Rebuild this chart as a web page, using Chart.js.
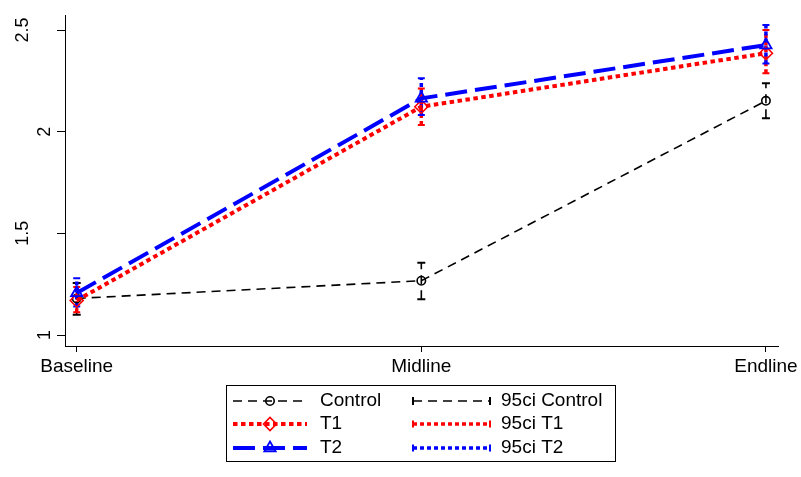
<!DOCTYPE html>
<html><head><meta charset="utf-8">
<script src="https://cdn.jsdelivr.net/npm/chart.js@4.4.0/dist/chart.umd.min.js"></script>
<style>html,body{margin:0;padding:0;background:#fff}#wrap{width:801px;height:477px;position:relative}</style>
</head><body><div id="wrap"><canvas id="c"></canvas></div>
<script>
const categories = ['Baseline', 'Midline', 'Endline'];
const yTickValues = [1, 1.5, 2, 2.5];
const yTickLabels = ['1', '1.5', '2', '2.5'];

const controlMean = [1.180, 1.267, 2.152];
const controlLow  = [1.100, 1.176, 2.066];
const controlHigh = [1.256, 1.356, 2.238];

const t1Mean = [1.170, 2.123, 2.386];
const t1Low  = [1.112, 2.033, 2.287];
const t1High = [1.236, 2.213, 2.500];

const t2Mean = [1.207, 2.164, 2.426];
const t2Low  = [1.140, 2.082, 2.336];
const t2High = [1.279, 2.263, 2.525];

const FONT = '"Liberation Sans", Arial, Helvetica, sans-serif';

function meanPoints(arr) { return arr.map((v, i) => ({ x: i, y: v })); }
function ciPoints(lo, hi) {
  const out = [];
  lo.forEach((l, i) => { out.push({ x: i, y: l }, { x: i, y: hi[i] }, { x: i, y: null }); });
  return out;
}

const datasets = [
  { label: 'Control', data: meanPoints(controlMean), showLine: true, order: 3,
    borderColor: '#000', borderWidth: 1.6, borderDash: [9, 6],
    pointStyle: 'circle', pointRadius: 4.2, pointBorderWidth: 1.6,
    pointBorderColor: '#000', pointBackgroundColor: 'rgba(0,0,0,0)', ci: false },
  { label: 'T1', data: meanPoints(t1Mean), showLine: true, order: 2,
    borderColor: '#ff0000', borderWidth: 4, borderDash: [4.5, 3.5],
    pointStyle: 'rectRot', pointRadius: 6.5, pointBorderWidth: 1.6,
    pointBorderColor: '#ff0000', pointBackgroundColor: 'rgba(0,0,0,0)', ci: false },
  { label: 'T2', data: meanPoints(t2Mean), showLine: true, order: 1,
    borderColor: '#0000ff', borderWidth: 4, borderDash: [22, 8],
    pointStyle: 'triangle', pointRadius: 6.5, pointBorderWidth: 1.8,
    pointBorderColor: '#0000ff', pointBackgroundColor: 'rgba(0,0,0,0)', ci: false },
  { label: '95ci Control', data: ciPoints(controlLow, controlHigh), showLine: true, order: 6,
    borderColor: '#000', borderWidth: 1.6, borderDash: [9, 6], spanGaps: false,
    pointStyle: 'line', pointRadius: 4, pointBorderWidth: 2, pointBorderColor: '#000', ci: true },
  { label: '95ci T1', data: ciPoints(t1Low, t1High), showLine: true, order: 5,
    borderColor: '#ff0000', borderWidth: 3.5, borderDash: [4, 3], spanGaps: false,
    pointStyle: 'line', pointRadius: 3.5, pointBorderWidth: 2, pointBorderColor: '#ff0000', ci: true },
  { label: '95ci T2', data: ciPoints(t2Low, t2High), showLine: true, order: 4,
    borderColor: '#0000ff', borderWidth: 3.5, borderDash: [4, 3], spanGaps: false,
    pointStyle: 'line', pointRadius: 3.5, pointBorderWidth: 2, pointBorderColor: '#0000ff', ci: true }
];

function drawMarker(ctx, style, r, x, y, color, bw) {
  ctx.save();
  ctx.setLineDash([]);
  ctx.strokeStyle = color; ctx.lineWidth = bw;
  if (Chart.helpers && Chart.helpers.drawPoint) {
    ctx.fillStyle = 'rgba(0,0,0,0)';
    Chart.helpers.drawPoint(ctx, { pointStyle: style, radius: r, rotation: 0, borderWidth: bw }, x, y);
  } else {
    ctx.beginPath();
    if (style === 'circle') ctx.arc(x, y, r, 0, Math.PI * 2);
    else if (style === 'rectRot') { ctx.moveTo(x - r, y); ctx.lineTo(x, y - r); ctx.lineTo(x + r, y); ctx.lineTo(x, y + r); ctx.closePath(); }
    else if (style === 'triangle') {
      ctx.moveTo(x, y - r); ctx.lineTo(x + r * 0.866, y + r * 0.5); ctx.lineTo(x - r * 0.866, y + r * 0.5); ctx.closePath();
    }
    ctx.stroke();
  }
  ctx.restore();
}

const yLabelPlugin = {
  id: 'yLabels',
  afterDraw(chart) {
    const s = chart.scales.y, ctx = chart.ctx;
    ctx.save();
    ctx.fillStyle = '#000';
    ctx.font = '18px ' + FONT;
    ctx.textAlign = 'center';
    ctx.textBaseline = 'alphabetic';
    yTickValues.forEach((v, i) => {
      const txt = yTickLabels[i];
      const y = s.getPixelForValue(v);
      const x = s.right - 15 - (txt.length - 1) * 11;
      ctx.save();
      ctx.translate(x, y);
      ctx.rotate(-Math.PI / 2);
      ctx.fillText(txt, 0, 0);
      ctx.restore();
    });
    ctx.restore();
  }
};

const legendPlugin = {
  id: 'boxLegend',
  afterDraw(chart) {
    const ctx = chart.ctx;
    const ds = chart.data.datasets;
    const rows = [[0, 3], [1, 4], [2, 5]];
    const rowY = [401, 424, 448];
    const cols = [{ x0: 233, x1: 307, tx: 320 }, { x0: 413, x1: 490, tx: 501 }];
    ctx.save();
    ctx.strokeStyle = '#000'; ctx.lineWidth = 1; ctx.setLineDash([]);
    ctx.strokeRect(226.5, 385.5, 389, 76);
    ctx.font = '19px ' + FONT;
    ctx.fillStyle = '#000';
    ctx.textBaseline = 'middle';
    ctx.textAlign = 'left';
    rows.forEach((row, r) => {
      const y = rowY[r];
      row.forEach((idx, c) => {
        const d = ds[idx], col = cols[c];
        ctx.save();
        ctx.strokeStyle = d.borderColor;
        ctx.lineWidth = d.borderWidth;
        ctx.setLineDash(d.borderDash || []);
        ctx.beginPath(); ctx.moveTo(col.x0, y); ctx.lineTo(col.x1, y); ctx.stroke();
        ctx.setLineDash([]);
        if (d.ci) {
          const h = idx === 3 ? 4 : 3.5;
          ctx.lineWidth = 2;
          ctx.beginPath();
          ctx.moveTo(col.x0, y - h); ctx.lineTo(col.x0, y + h);
          ctx.moveTo(col.x1, y - h); ctx.lineTo(col.x1, y + h);
          ctx.stroke();
        } else {
          drawMarker(ctx, d.pointStyle, d.pointRadius, (col.x0 + col.x1) / 2, y, d.pointBorderColor, d.pointBorderWidth);
        }
        ctx.restore();
        ctx.fillText(d.label, col.tx, y);
      });
    });
    ctx.restore();
  }
};

new Chart(document.getElementById('c'), {
  type: 'scatter',
  data: { datasets },
  plugins: [yLabelPlugin, legendPlugin],
  options: {
    responsive: true,
    maintainAspectRatio: false,
    animation: false,
    devicePixelRatio: 1,
    layout: { padding: { top: 15, right: 22, bottom: 91, left: 0 } },
    plugins: { legend: { display: false }, tooltip: { enabled: false } },
    scales: {
      x: {
        type: 'linear', min: -0.034, max: 2.036,
        afterBuildTicks: (axis) => { axis.ticks = categories.map((_, i) => ({ value: i })); },
        afterFit: (s) => { s.height = 40; },
        grid: { drawOnChartArea: false, drawTicks: true, tickLength: 6, tickColor: '#000', color: '#000' },
        border: { display: true, color: '#000', width: 1 },
        ticks: { padding: 3, maxRotation: 0, autoSkip: false, color: '#000',
          font: { family: FONT, size: 19 },
          callback: (v) => categories[v] !== undefined ? categories[v] : '' }
      },
      y: {
        type: 'linear', min: 0.946, max: 2.574,
        afterBuildTicks: (axis) => { axis.ticks = yTickValues.map(v => ({ value: v })); },
        afterFit: (s) => { s.width = 65; },
        grid: { drawOnChartArea: false, drawTicks: true, tickLength: 8, tickColor: '#000', color: '#000' },
        border: { display: true, color: '#000', width: 1 },
        ticks: { display: false }
      }
    }
  }
});
</script>
</body></html>
